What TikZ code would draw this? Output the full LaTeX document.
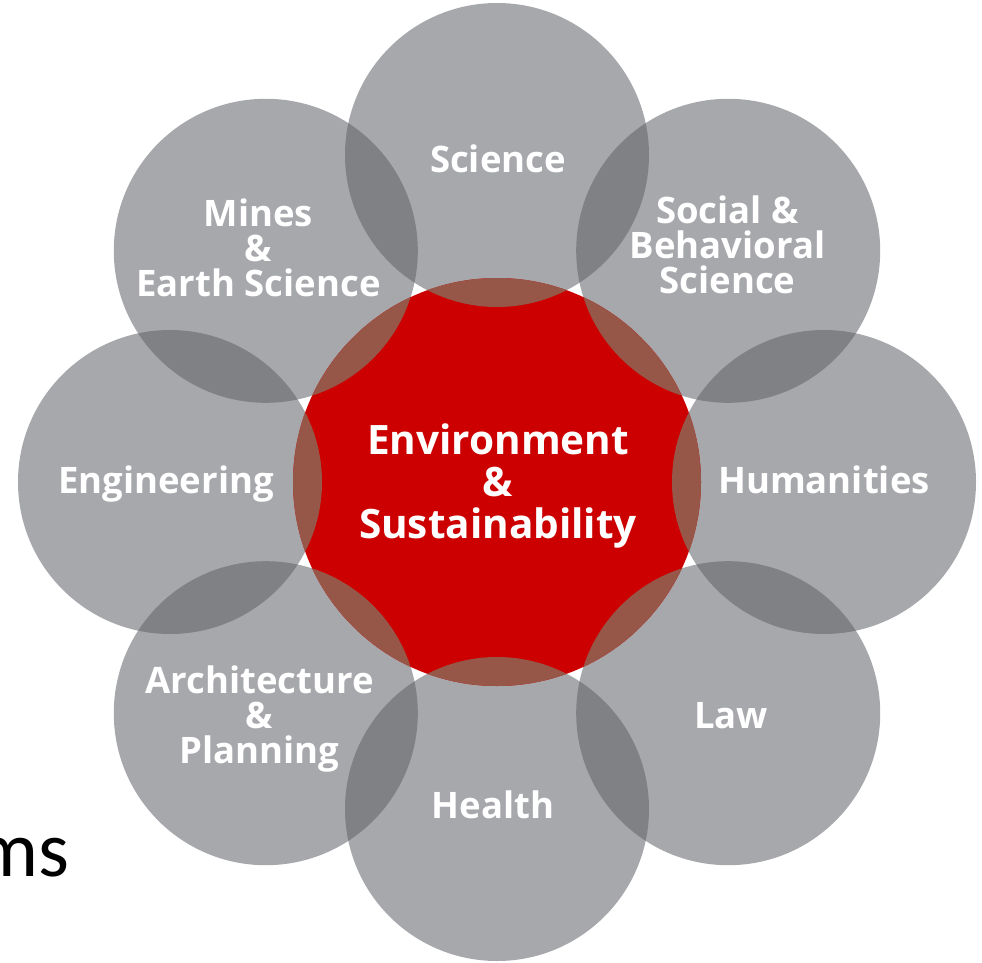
\documentclass[tikz,border=0pt]{standalone}
\usepackage{fontspec}
\setmainfont{Open Sans}
\newfontfamily\calfont{Carlito}
\definecolor{petal}{RGB}{167,168,172}
\definecolor{lens}{RGB}{128,129,133}
\definecolor{core}{RGB}{204,0,0}
\definecolor{rim}{RGB}{151,87,72}
\begin{document}
\begin{tikzpicture}[x=1pt,y=-1pt,
  lbl/.style={text=white, inner sep=0pt, align=center,
    font=\bfseries\fontsize{36.5}{35}\selectfont},
  hub/.style={text=white, inner sep=0pt, align=center,
    font=\bfseries\fontsize{40.5}{42}\selectfont}]
\fill[white] (0,0) rectangle (982,963);
\useasboundingbox (0,0) rectangle (982,963);
\coordinate (c) at (497,482);
\coordinate (sci) at (497,155);
\coordinate (soc) at (728.2,250.8);
\coordinate (hum) at (824,482);
\coordinate (law) at (728.2,713.2);
\coordinate (hea) at (497,809);
\coordinate (arc) at (265.8,713.2);
\coordinate (eng) at (170,482);
\coordinate (min) at (265.8,250.8);
% petals
\foreach \p in {sci,soc,hum,law,hea,arc,eng,min}
  \fill[petal] (\p) circle (152pt);
% overlaps of neighbouring petals
\foreach \a/\b in {sci/soc,soc/hum,hum/law,law/hea,hea/arc,arc/eng,eng/min,min/sci}{
  \begin{scope}
    \clip (\a) circle (152pt);
    \fill[lens] (\b) circle (152pt);
  \end{scope}
}
% centre
\fill[core] (c) circle (204pt);
\begin{scope}
  \clip (c) circle (204pt);
  \foreach \p in {sci,soc,hum,law,hea,arc,eng,min}
    \fill[rim] (\p) circle (152pt);
\end{scope}
% labels
\node[lbl, anchor=base] (tsci) at (498,172) {Science};
\node[lbl] (tsoc) at (727.5,245) {Social \&\\Behavioral\\Science};
\node[lbl, anchor=base] (thum) at (824,493) {Humanities};
\node[lbl, anchor=base] (tlaw) at (731,728) {Law};
\node[lbl, anchor=base] (thea) at (493,818) {Health};
\node[lbl] (tarc) at (259.5,719.5) {Architecture\\\&\\Planning};
\node[lbl, anchor=base] (teng) at (166,493) {Engineering};
\node[lbl] (tmin) at (258.5,247.5) {Mines\\\&\\Earth Science};
\node[hub] (thub) at (498,486) {Environment\\\&\\Sustainability};
\node[anchor=base east, inner sep=0pt, text=black,
  font=\calfont\fontsize{79}{80}\selectfont] (tms) at (70,876) {ms};
\end{tikzpicture}
\end{document}
